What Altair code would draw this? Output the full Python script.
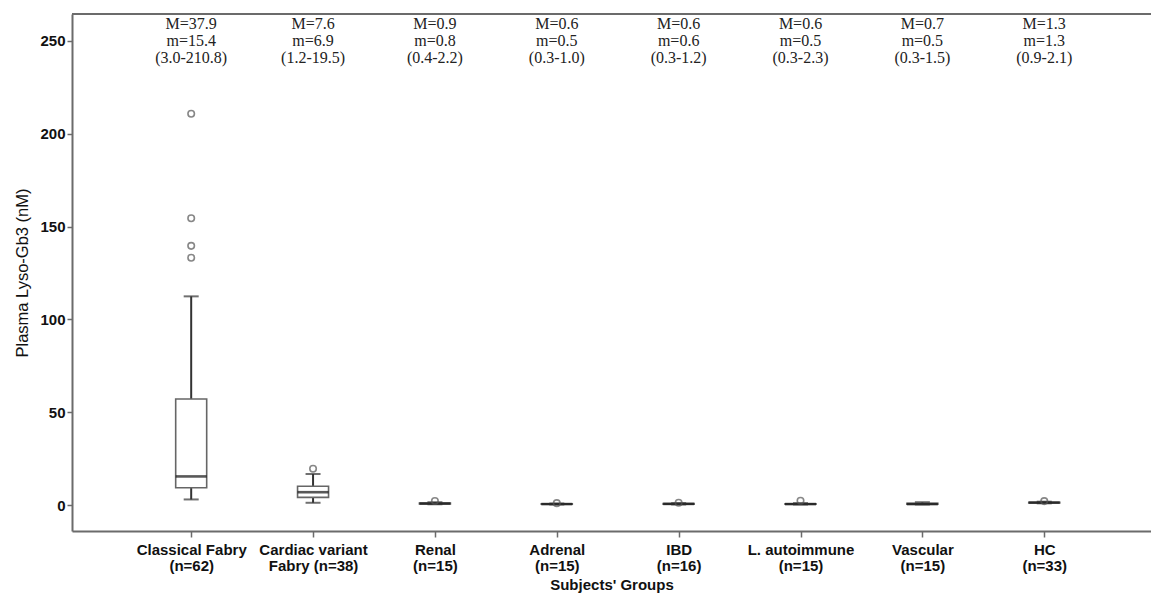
import altair as alt
import pandas as pd

# Group labels (two lines each) and per-group box statistics (nM)
group_line1 = ["Classical Fabry", "Cardiac variant", "Renal", "Adrenal", "IBD",
               "L. autoimmune", "Vascular", "HC"]
group_line2 = ["(n=62)", "Fabry (n=38)", "(n=15)", "(n=15)", "(n=16)",
               "(n=15)", "(n=15)", "(n=33)"]

mean_val = [37.9, 7.6, 0.9, 0.6, 0.6, 0.6, 0.7, 1.3]
median_val = [15.4, 6.9, 0.8, 0.5, 0.6, 0.5, 0.5, 1.3]
min_val = [3.0, 1.2, 0.4, 0.3, 0.3, 0.3, 0.3, 0.9]
max_val = [210.8, 19.5, 2.2, 1.0, 1.2, 2.3, 1.5, 2.1]

q1_val = [9.3, 4.1, 0.6, 0.4, 0.4, 0.4, 0.4, 1.1]
q3_val = [57.1, 10.1, 1.1, 0.7, 0.75, 0.7, 0.9, 1.5]
whisker_low = [3.0, 1.2, 0.4, 0.3, 0.3, 0.3, 0.3, 0.9]
whisker_high = [112.4, 16.7, 1.5, 0.8, 1.0, 1.0, 1.5, 1.8]

# Outlying observations: (group index, value)
outlier_group = [0, 0, 0, 0, 1, 2, 3, 4, 5, 7]
outlier_value = [210.8, 154.5, 139.6, 133.2, 19.5, 2.2, 1.0, 1.2, 2.3, 2.1]

W, H = 1079, 517
AXIS_GREY = "#6b6b6b"
FONT = "Liberation Sans"
SERIF = "Liberation Serif"

n = len(group_line1)
stats = pd.DataFrame({
    "idx": list(range(n)),
    "q1": q1_val, "q3": q3_val, "med": median_val,
    "lo": whisker_low, "hi": whisker_high,
    "l1": [f"M={v}" for v in mean_val],
    "l2": [f"m={v}" for v in median_val],
    "l3": [f"({a:.1f}-{b:.1f})" for a, b in zip(min_val, max_val)],
})
caps = pd.DataFrame({
    "idx": list(range(n)) * 2,
    "v": whisker_low + whisker_high,
})
outliers = pd.DataFrame({"idx": outlier_group, "v": outlier_value})

label_arrays = ",".join(f"['{a}','{b}']" for a, b in zip(group_line1, group_line2))
label_expr = f"[{label_arrays}][datum.value]"

x_scale = alt.Scale(domain=[-0.937, 7.835], nice=False, zero=False)
y_scale = alt.Scale(domain=[-14, 264.5], nice=False, zero=False)

x_enc = alt.X(
    "idx:Q", scale=x_scale,
    axis=alt.Axis(
        title="Subjects' Groups", values=list(range(n)), labelExpr=label_expr,
        grid=False, domainColor=AXIS_GREY, domainWidth=2, tickColor=AXIS_GREY,
        tickWidth=1.5, tickSize=6, labelPadding=5, labelLineHeight=16,
        labelFont=FONT, labelFontSize=15, labelFontWeight="bold", labelColor="#111",
        titleFont=FONT, titleFontSize=15, titleFontWeight="bold", titleColor="#111",
        titlePadding=4, labelOverlap=False,
    ),
)
y_axis = alt.Axis(
    title="Plasma Lyso-Gb3 (nM)", values=[0, 50, 100, 150, 200, 250],
    grid=False, domainColor=AXIS_GREY, domainWidth=2, tickColor=AXIS_GREY,
    tickWidth=1.5, tickSize=5, labelPadding=2,
    labelFont=FONT, labelFontSize=15, labelFontWeight="bold", labelColor="#111",
    titleFont=FONT, titleFontSize=16.5, titleFontWeight="normal", titleColor="#111",
    titlePadding=9,
)

base = alt.Chart(stats)

whiskers = base.mark_rule(color="#333", strokeWidth=2).encode(
    x=x_enc, y=alt.Y("lo:Q", scale=y_scale, axis=y_axis), y2="hi:Q"
)
whisker_caps = alt.Chart(caps).mark_tick(
    orient="horizontal", size=15, thickness=2, color="#333"
).encode(x=alt.X("idx:Q", scale=x_scale), y=alt.Y("v:Q", scale=y_scale))

boxes = base.mark_bar(size=31, fill="white", stroke="#666", strokeWidth=1.6).encode(
    x=alt.X("idx:Q", scale=x_scale), y=alt.Y("q1:Q", scale=y_scale), y2="q3:Q"
)
medians = base.mark_tick(
    orient="horizontal", size=31, thickness=2.6, color="#111"
).encode(x=alt.X("idx:Q", scale=x_scale), y=alt.Y("med:Q", scale=y_scale))

outlier_pts = alt.Chart(outliers).mark_point(
    shape="circle", filled=False, size=42, stroke="#555", strokeWidth=1.6
).encode(x=alt.X("idx:Q", scale=x_scale), y=alt.Y("v:Q", scale=y_scale))

def note(field, ypix):
    return base.mark_text(
        font=SERIF, fontSize=16, color="#222", baseline="middle", align="center"
    ).encode(x=alt.X("idx:Q", scale=x_scale), y=alt.value(ypix), text=f"{field}:N")

top_line = alt.Chart(stats).mark_rule(color=AXIS_GREY, strokeWidth=2).encode(
    x=alt.value(0), x2=alt.value(W), y=alt.value(0)
)

chart = alt.layer(
    whiskers, whisker_caps, boxes, medians, outlier_pts,
    note("l1", 10), note("l2", 27), note("l3", 44), top_line,
).properties(
    width=W, height=H,
    padding={"left": 72, "top": 14, "right": 0, "bottom": 71},
    autosize=alt.AutoSizeParams(type="none"),
).configure_view(stroke=None)

chart.save("out.html", embed_options={"renderer": "svg", "actions": False})
